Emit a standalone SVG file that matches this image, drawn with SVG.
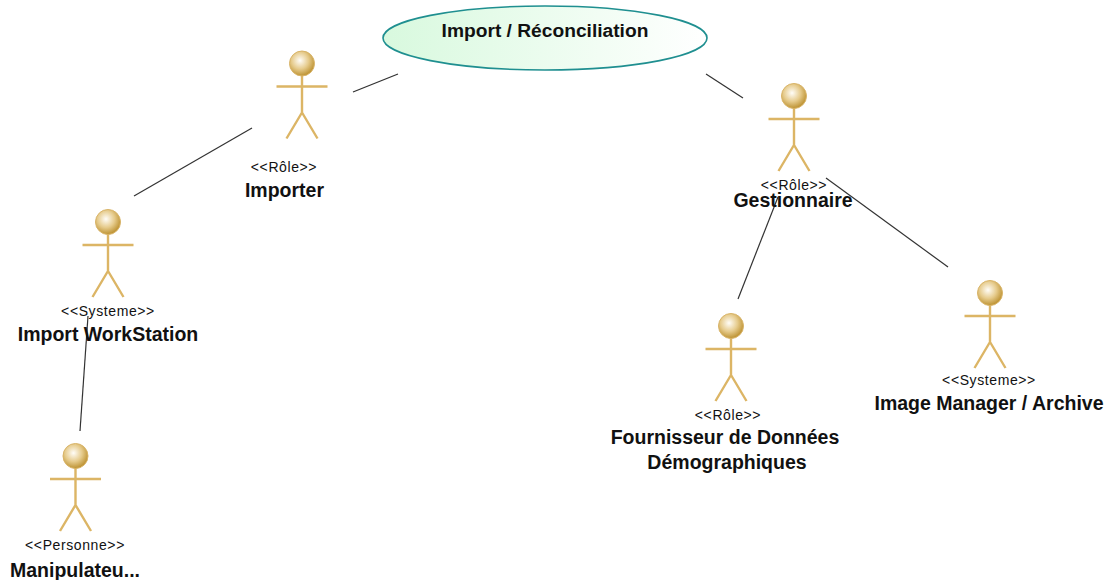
<svg xmlns="http://www.w3.org/2000/svg" xmlns:xlink="http://www.w3.org/1999/xlink" width="1107" height="580" viewBox="0 0 1107 580">
<style>
text{font-family:"Liberation Sans",Arial,sans-serif;fill:#111;text-anchor:middle}
.st{font-size:14px;letter-spacing:0.6px}
.nm{font-size:19.500px;font-weight:bold}
.conn line{stroke:#333;stroke-width:1.2}
.limb{stroke:#dcb565;stroke-width:2.4;fill:none}
.head{fill:url(#hd);stroke:#d9b468;stroke-width:1}
</style>
<defs>
<radialGradient id="hd" cx="0.42" cy="0.38" r="0.62"><stop offset="0" stop-color="#fffdf8"/><stop offset="0.55" stop-color="#e6cb8c"/><stop offset="1" stop-color="#bd9232"/></radialGradient>
<linearGradient id="el" x1="0" x2="1" y1="0" y2="0"><stop offset="0" stop-color="#d8f9de"/><stop offset="1" stop-color="#ffffff"/></linearGradient>
<g id="actor"><path class="limb" d="M0 12V49M-25.500 23H25.500M-15.500 75L0 49L15.500 75"/><circle class="head" cx="0" cy="0" r="12.500"/></g>
</defs>
<g id="connectors" class="conn">
<line x1="353" y1="92" x2="398" y2="74"/>
<line x1="134" y1="196" x2="252" y2="128"/>
<line x1="706" y1="74" x2="743" y2="98"/>
<line x1="88" y1="316" x2="80" y2="431"/>
<line x1="778" y1="197" x2="738" y2="299"/>
<line x1="826" y1="178" x2="948" y2="267"/>
</g>
<g id="usecase"><ellipse cx="545" cy="38" rx="162" ry="32" fill="url(#el)" stroke="#1f8f90" stroke-width="1.600"/><text class="nm" x="545" y="37" style="font-size:19.200px">Import / Réconciliation</text></g>
<g id="importer"><use xlink:href="#actor" href="#actor" x="302" y="63.500"/><text class="st" x="284" y="171.500">&lt;&lt;Rôle&gt;&gt;</text><text class="nm" x="284.500" y="197">Importer</text></g>
<g id="gestionnaire"><use xlink:href="#actor" href="#actor" x="794" y="96"/><text class="st" x="794" y="189.500">&lt;&lt;Rôle&gt;&gt;</text><text class="nm" x="793" y="207">Gestionnaire</text></g>
<g id="workstation"><use xlink:href="#actor" href="#actor" x="108" y="222"/><text class="st" x="108" y="315.500">&lt;&lt;Systeme&gt;&gt;</text><text class="nm" x="108" y="341">Import WorkStation</text></g>
<g id="manipulateur"><use xlink:href="#actor" href="#actor" x="75.500" y="456"/><text class="st" x="75" y="549.500">&lt;&lt;Personne&gt;&gt;</text><text class="nm" x="75" y="577">Manipulateu...</text></g>
<g id="fournisseur"><use xlink:href="#actor" href="#actor" x="731" y="326"/><text class="st" x="728" y="419.500">&lt;&lt;Rôle&gt;&gt;</text><text class="nm" x="725" y="444">Fournisseur de Données</text><text class="nm" x="727" y="469">Démographiques</text></g>
<g id="imagemanager"><use xlink:href="#actor" href="#actor" x="990" y="293"/><text class="st" x="989" y="384.500">&lt;&lt;Systeme&gt;&gt;</text><text class="nm" x="989" y="410">Image Manager / Archive</text></g>
</svg>
